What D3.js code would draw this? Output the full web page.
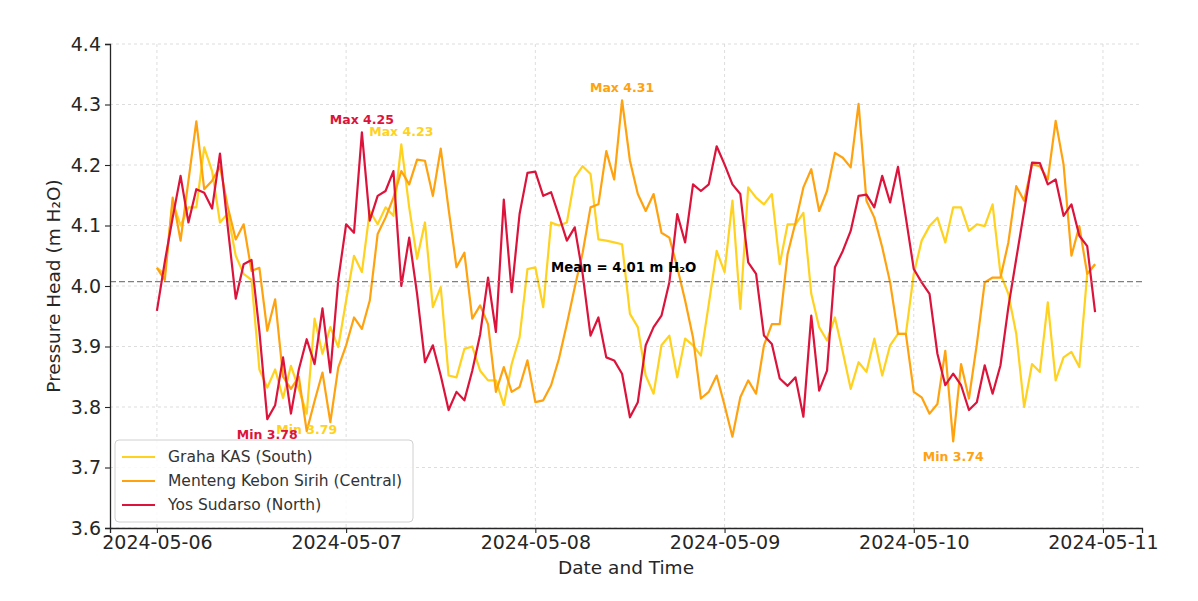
<!DOCTYPE html>
<html>
<head>
<meta charset="utf-8">
<script src="https://cdn.jsdelivr.net/npm/d3@7"></script>
<style>
  body { margin: 0; background: #fff; }
  text { font-family: "DejaVu Sans", sans-serif; }
</style>
</head>
<body>
<div id="chart"></div>
<script>
// hourly readings starting 2024-05-06 00:00
const startTime = Date.UTC(2024, 4, 6, 0);
const seriesNames = ["Graha KAS (South)", "Menteng Kebon Sirih (Central)", "Yos Sudarso (North)"];
const seriesColors = ["#FFD21F", "#FFA20F", "#DC143C"];
const yTicks = [3.6, 3.7, 3.8, 3.9, 4.0, 4.1, 4.2, 4.3, 4.4];

const grahaKas = [
  4.03, 4.02, 4.14, 4.10, 4.13, 4.13, 4.229, 4.19, 4.105, 4.12,
  4.05, 4.02, 4.01, 3.862, 3.832, 3.862, 3.815, 3.868, 3.83, 3.789,
  3.946, 3.888, 3.932, 3.899, 3.976, 4.05, 4.023, 4.124, 4.102, 4.13,
  4.116, 4.234, 4.13, 4.045, 4.105, 3.965, 3.998, 3.852, 3.849, 3.896,
  3.90, 3.86, 3.844, 3.844, 3.803, 3.871, 3.915, 4.028, 4.031, 3.965,
  4.105, 4.10, 4.105, 4.179, 4.198, 4.185, 4.077, 4.075, 4.072, 4.069,
  3.954, 3.932, 3.852, 3.822, 3.902, 3.918, 3.849, 3.913, 3.902, 3.885,
  3.97, 4.058, 4.023, 4.141, 3.962, 4.163, 4.146, 4.135, 4.152, 4.036,
  4.102, 4.102, 4.121, 3.987, 3.932, 3.91, 3.948, 3.891, 3.83, 3.874,
  3.858, 3.913, 3.852, 3.902, 3.921, 3.921, 4.02, 4.075, 4.099, 4.113,
  4.072, 4.13, 4.13, 4.091, 4.102, 4.099, 4.135, 4.02, 3.987, 3.921,
  3.80, 3.871, 3.858, 3.973, 3.844, 3.882, 3.891, 3.866, 4.02, 4.036
];

const mentengKebonSirih = [
  4.03, 4.01, 4.146, 4.075, 4.174, 4.272, 4.16, 4.174, 4.198, 4.13,
  4.077, 4.102, 4.025, 4.03, 3.926, 3.978, 3.85, 3.83, 3.85, 3.76,
  3.81, 3.857, 3.775, 3.865, 3.902, 3.948, 3.929, 3.976, 4.086, 4.113,
  4.146, 4.19, 4.168, 4.209, 4.207, 4.149, 4.227, 4.127, 4.031, 4.055,
  3.946, 3.968, 3.937, 3.825, 3.866, 3.825, 3.833, 3.877, 3.808, 3.811,
  3.836, 3.88, 3.937, 3.998, 4.055, 4.13, 4.135, 4.223, 4.176, 4.307,
  4.207, 4.152, 4.124, 4.152, 4.088, 4.08, 4.031, 3.976, 3.915, 3.814,
  3.825, 3.852, 3.803, 3.751, 3.816, 3.844, 3.822, 3.902, 3.937, 3.937,
  4.053, 4.105, 4.163, 4.193, 4.124, 4.157, 4.22, 4.212, 4.196, 4.301,
  4.141, 4.113, 4.064, 4.006, 3.921, 3.921, 3.825, 3.816, 3.789, 3.805,
  3.893, 3.743, 3.871, 3.814, 3.904, 4.006, 4.014, 4.014, 4.072, 4.165,
  4.141, 4.201, 4.198, 4.176, 4.273, 4.201, 4.05, 4.099, 4.02, 4.036
];

const yosSudarso = [
  3.959, 4.04, 4.113, 4.182, 4.105, 4.16, 4.154, 4.128, 4.219, 4.096,
  3.979, 4.036, 4.043, 3.925, 3.780, 3.803, 3.882, 3.789, 3.862, 3.912,
  3.871, 3.963, 3.857, 4.01, 4.102, 4.088, 4.254, 4.108, 4.149, 4.157,
  4.19, 4.0, 4.08, 3.987, 3.874, 3.902, 3.852, 3.795, 3.825, 3.811,
  3.86, 3.92, 4.014, 3.924, 4.143, 3.99, 4.119, 4.187, 4.189, 4.149,
  4.155, 4.116, 4.075, 4.097, 4.02, 3.918, 3.948, 3.882, 3.877, 3.855,
  3.783, 3.808, 3.902, 3.932, 3.951, 4.006, 4.119, 4.072, 4.168, 4.157,
  4.168, 4.231, 4.201, 4.168, 4.152, 4.039, 4.02, 3.918, 3.904, 3.847,
  3.835, 3.849, 3.784, 3.951, 3.827, 3.86, 4.031, 4.058, 4.091, 4.149,
  4.151, 4.13, 4.182, 4.138, 4.197, 4.113, 4.028, 4.006, 3.987, 3.888,
  3.836, 3.855, 3.836, 3.795, 3.808, 3.869, 3.822, 3.869, 3.965, 4.045,
  4.124, 4.204, 4.203, 4.168, 4.176, 4.116, 4.135, 4.083, 4.066, 3.957
];

const allSeries = [grahaKas, mentengKebonSirih, yosSudarso];

const W = 1198, H = 601;
const margin = { top: 44, right: 56, bottom: 73, left: 110 };

const times = grahaKas.map((d, i) => new Date(startTime + i * 3600 * 1000));
const tFirst = times[0], tLast = times[times.length - 1];
const pad = (tLast - tFirst) * 0.05;

const x = d3.scaleUtc()
  .domain([new Date(+tFirst - pad), new Date(+tLast + pad)])
  .range([margin.left, W - margin.right]);

const y = d3.scaleLinear()
  .domain([3.6, 4.4])
  .range([H - margin.bottom, margin.top]);

const svg = d3.select("#chart").append("svg")
  .attr("width", W)
  .attr("height", H);

const dayTicks = d3.utcDay.range(d3.utcDay.floor(tFirst), new Date(+tLast + pad));

// grid
const grid = svg.append("g").attr("stroke", "#d4d4d4").attr("stroke-width", 0.8).attr("stroke-dasharray", "3,3");
grid.selectAll(".gy").data(yTicks).enter().append("line")
  .attr("x1", margin.left).attr("x2", W - margin.right)
  .attr("y1", d => y(d)).attr("y2", d => y(d));
grid.selectAll(".gx").data(dayTicks).enter().append("line")
  .attr("x1", d => x(d)).attr("x2", d => x(d))
  .attr("y1", margin.top).attr("y2", H - margin.bottom);

// series lines
const line = d3.line()
  .x((d, i) => x(times[i]))
  .y(d => y(d));

allSeries.forEach((s, k) => {
  svg.append("path")
    .datum(s)
    .attr("fill", "none")
    .attr("stroke", seriesColors[k])
    .attr("stroke-width", 2.2)
    .attr("stroke-linejoin", "round")
    .attr("d", line);
});

// mean line
const meanVal = d3.mean(allSeries.flat());
svg.append("line")
  .attr("x1", margin.left).attr("x2", W - margin.right)
  .attr("y1", y(meanVal)).attr("y2", y(meanVal))
  .attr("stroke", "#808080").attr("stroke-width", 1.4)
  .attr("stroke-dasharray", "6,3");
svg.append("text")
  .attr("x", x(new Date(startTime + 50 * 3600 * 1000)))
  .attr("y", y(meanVal) - 10)
  .attr("font-size", "13.3px").attr("font-weight", "bold").attr("fill", "#000")
  .text("Mean = " + meanVal.toFixed(2) + " m H\u2082O");

// max / min annotations
allSeries.forEach((s, k) => {
  const iMax = d3.maxIndex(s), iMin = d3.minIndex(s);
  svg.append("text")
    .attr("x", x(times[iMax])).attr("y", y(s[iMax]) - 8)
    .attr("text-anchor", "middle").attr("font-size", "12.5px").attr("font-weight", "bold")
    .attr("fill", seriesColors[k])
    .text("Max " + s[iMax].toFixed(2));
  svg.append("text")
    .attr("x", x(times[iMin])).attr("y", y(s[iMin]) + 20)
    .attr("text-anchor", "middle").attr("font-size", "12.5px").attr("font-weight", "bold")
    .attr("fill", seriesColors[k])
    .text("Min " + s[iMin].toFixed(2));
});

// axes
const xAxis = svg.append("g")
  .attr("transform", `translate(0,${H - margin.bottom})`)
  .call(d3.axisBottom(x).tickValues(dayTicks).tickFormat(d3.utcFormat("%Y-%m-%d")).tickSizeOuter(0).tickSize(5).tickPadding(3));
xAxis.selectAll("text").attr("font-size", "19px").attr("fill", "#262626").attr("font-family", "DejaVu Sans");

const yAxis = svg.append("g")
  .attr("transform", `translate(${margin.left},0)`)
  .call(d3.axisLeft(y).tickValues(yTicks).tickFormat(d3.format(".1f")).tickSizeOuter(0).tickSize(5).tickPadding(4));
yAxis.selectAll("text").attr("font-size", "19px").attr("fill", "#262626").attr("font-family", "DejaVu Sans");

[xAxis, yAxis].forEach(a => {
  a.select(".domain").attr("stroke", "#262626").attr("stroke-width", 1.3);
  a.selectAll(".tick line").attr("stroke", "#262626").attr("stroke-width", 1.1);
});

svg.append("text")
  .attr("x", (margin.left + W - margin.right) / 2).attr("y", 574)
  .attr("text-anchor", "middle").attr("font-size", "18.5px").attr("fill", "#262626")
  .text("Date and Time");

svg.append("text")
  .attr("transform", `translate(60,${(margin.top + H - margin.bottom) / 2}) rotate(-90)`)
  .attr("text-anchor", "middle").attr("font-size", "18.5px").attr("fill", "#262626")
  .text("Pressure Head (m H\u2082O)");

// legend
const legend = svg.append("g").attr("transform", "translate(115,440)");
legend.append("rect")
  .attr("width", 298).attr("height", 82).attr("rx", 4)
  .attr("fill", "#fff").attr("fill-opacity", 0.85)
  .attr("stroke", "#d0d0d0");
seriesNames.forEach((name, k) => {
  const ly = 17 + k * 24;
  legend.append("line")
    .attr("x1", 7).attr("x2", 40).attr("y1", ly).attr("y2", ly)
    .attr("stroke", seriesColors[k]).attr("stroke-width", 2.2);
  legend.append("text")
    .attr("x", 53).attr("y", ly).attr("dy", "0.35em")
    .attr("font-size", "15.5px").attr("fill", "#333")
    .text(name);
});
</script>
</body>
</html>
